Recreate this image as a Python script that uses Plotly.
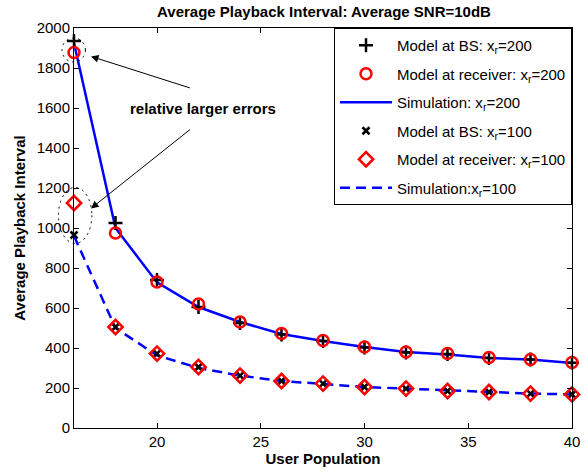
import plotly.graph_objects as go

users = [16, 18, 20, 22, 24, 26, 28, 30, 32, 34, 36, 38, 40]
bs_200 = [1935, 1025, 740, 605, 525, 468, 435, 402, 378, 370, 350, 342, 326]
rx_200 = [1878, 975, 730, 620, 530, 473, 438, 405, 380, 372, 352, 343, 327]
sim_200 = [1925, 1000, 728, 605, 530, 470, 435, 405, 380, 368, 350, 342, 325]
bs_100 = [965, 505, 372, 305, 262, 235, 222, 205, 197, 185, 180, 172, 168]
rx_100 = [1125, 505, 372, 305, 262, 235, 222, 205, 197, 185, 180, 172, 168]
sim_100 = [960, 500, 363, 300, 262, 235, 220, 205, 197, 188, 180, 172, 168]

xticks = [20, 25, 30, 35, 40]
yticks = list(range(0, 2001, 200))

FONT = "Liberation Sans, Arial, sans-serif"
FS = 15
XMIN, XMAX = 16, 40
fig = go.Figure()

fig.add_trace(go.Scatter(x=users, y=sim_200, mode="lines", name="Simulation: x<sub>r</sub>=200",
                         line=dict(color="#0000ff", width=2.5), legendrank=3, legendgroup="c"))
fig.add_trace(go.Scatter(x=users, y=sim_100, mode="lines", name="Simulation:x<sub>r</sub>=100",
                         line=dict(color="#0000ff", width=2.5, dash="10px,6px"), legendrank=6, legendgroup="f"))
fig.add_trace(go.Scatter(x=users, y=bs_200, mode="markers", name="Model at BS: x<sub>r</sub>=200",
                         marker=dict(symbol="cross-thin", color="black", size=10, line=dict(width=2.5, color="black")),
                         legendrank=1, legendgroup="a", cliponaxis=False))
fig.add_trace(go.Scatter(x=users, y=bs_100, mode="markers", name="Model at BS: x<sub>r</sub>=100",
                         marker=dict(symbol="x-thin", color="black", size=7, line=dict(width=2.5, color="black")),
                         legendrank=4, legendgroup="d", cliponaxis=False))
fig.add_trace(go.Scatter(x=users, y=rx_200, mode="markers", name="Model at receiver: x<sub>r</sub>=200",
                         marker=dict(symbol="circle-open", color="#ff0000", size=11, line=dict(width=2.5)),
                         legendrank=2, legendgroup="b", cliponaxis=False))
fig.add_trace(go.Scatter(x=users, y=rx_100, mode="markers", name="Model at receiver: x<sub>r</sub>=100",
                         marker=dict(symbol="diamond-open", color="#ff0000", size=11, line=dict(width=2.5)),
                         legendrank=5, legendgroup="e", cliponaxis=False))


def xp(v):
    return (v - XMIN) / (XMAX - XMIN)


# dotted ellipses (x in paper units so they are not clipped at the axis)
fig.add_shape(type="circle", xref="paper", yref="y", x0=xp(15.42), x1=xp(16.55), y0=1830, y1=1950,
              line=dict(color="black", width=1, dash="2px,4px"))
fig.add_shape(type="circle", xref="paper", yref="y", x0=xp(15.25), x1=xp(16.86), y0=923, y1=1203,
              line=dict(color="black", width=1, dash="2px,4px"))

fig.add_annotation(x=22.23, y=1598, text="<b>relative larger errors</b>", showarrow=False,
                   font=dict(size=FS, color="black", family=FONT))
fig.add_annotation(x=16.82, y=1858, ax=21.66, ay=1698, axref="x", ayref="y", xref="x", yref="y",
                   showarrow=True, arrowhead=2, arrowsize=1.5, arrowwidth=1, arrowcolor="black", text="")
fig.add_annotation(x=16.82, y=1098, ax=21.66, ay=1498, axref="x", ayref="y", xref="x", yref="y",
                   showarrow=True, arrowhead=2, arrowsize=1.5, arrowwidth=1, arrowcolor="black", text="")

axis_common = dict(showline=True, linecolor="black", linewidth=1, mirror="ticks", ticks="inside",
                   ticklen=5, tickcolor="black", showgrid=False, zeroline=False,
                   tickfont=dict(size=FS, color="black", family=FONT), ticklabeloverflow="allow")

fig.update_xaxes(range=[XMIN, XMAX], tickvals=xticks, ticktext=[str(t) for t in xticks],
                 title=dict(text="<b>User Population</b>", font=dict(size=FS, color="black", family=FONT), standoff=4),
                 **axis_common)
fig.update_yaxes(range=[0, 2000], tickvals=yticks, ticktext=[str(t) for t in yticks],
                 title=dict(text="<b>Average Playback Interval</b>", font=dict(size=FS, color="black", family=FONT), standoff=7),
                 **axis_common)

fig.update_layout(
    width=587, height=475,
    margin=dict(l=74, r=7, t=28, b=47),
    paper_bgcolor="white", plot_bgcolor="white",
    title=dict(text="<b>Average Playback Interval: Average SNR=10dB</b>", xref="paper", x=0.502, xanchor="center",
               yref="container", y=0.975, yanchor="middle", font=dict(size=FS, color="black", family=FONT)),
    legend=dict(x=1, y=1, xanchor="right", yanchor="top", bgcolor="white", bordercolor="black",
                borderwidth=1, font=dict(size=FS, color="black", family=FONT), tracegroupgap=6,
                itemwidth=52),
    showlegend=True,
)

fig.write_html("out.html", config={"displayModeBar": False},
               post_script="document.body.style.margin='0px';")
